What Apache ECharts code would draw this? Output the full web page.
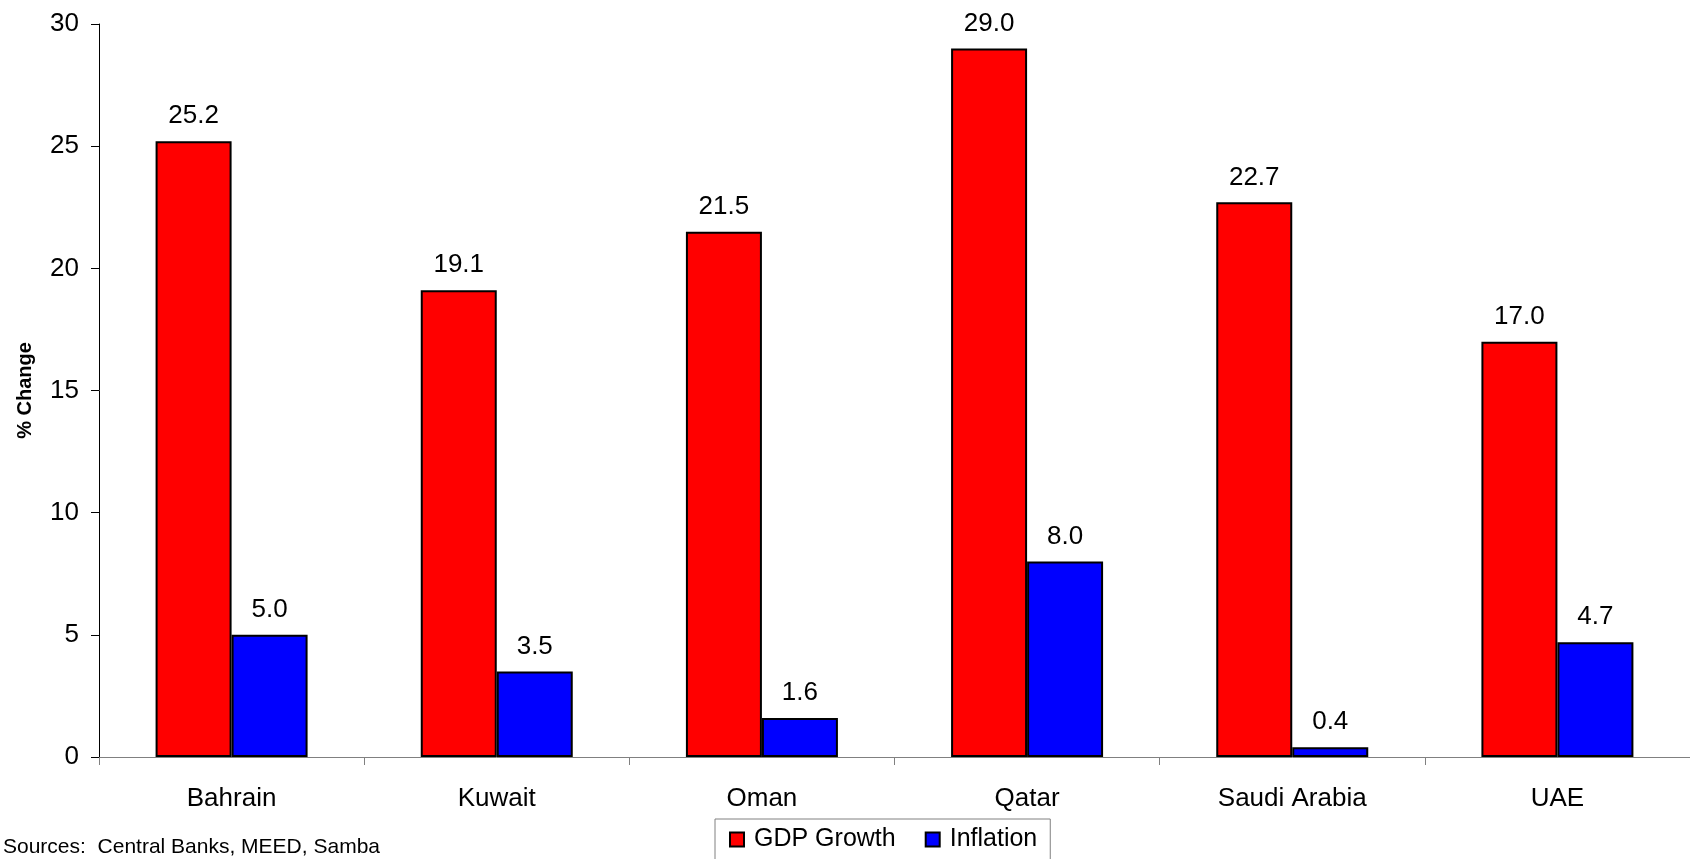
<!DOCTYPE html>
<html>
<head>
<meta charset="utf-8">
<title>GDP Growth and Inflation</title>
<script src="https://cdn.jsdelivr.net/npm/echarts@6/dist/echarts.min.js"></script>
<style>
  html, body { margin: 0; padding: 0; background: #ffffff; }
  #chart { width: 1690px; height: 859px; }
</style>
</head>
<body>
<div id="chart"></div>
<script>
// Countries along the category axis
const countries = ['Bahrain', 'Kuwait', 'Oman', 'Qatar', 'Saudi Arabia', 'UAE'];
// Percentage change per country
const gdpGrowth = [25.2, 19.1, 21.5, 29.0, 22.7, 17.0];
const inflation = [5.0, 3.5, 1.6, 8.0, 0.4, 4.7];
// Value axis
const yMin = 0, yMax = 30, yStep = 5;

const FONT = '"Liberation Sans", Arial, sans-serif';

const chart = echarts.init(document.getElementById('chart'), null, { renderer: 'canvas' });

const valueLabel = {
  show: true,
  position: 'top',
  distance: 12,
  color: '#000000',
  fontFamily: FONT,
  fontSize: 26,
  formatter: p => Number(p.value).toFixed(1)
};

chart.setOption({
  animation: false,
  backgroundColor: '#ffffff',
  textStyle: { fontFamily: FONT, color: '#000000' },
  grid: { left: 99, top: 24, width: 1594, height: 733 },
  xAxis: {
    type: 'category',
    data: countries,
    boundaryGap: true,
    axisLine: { show: true, lineStyle: { color: '#808080', width: 1 } },
    axisTick: { show: true, length: 8, alignWithLabel: false, lineStyle: { color: '#808080' } },
    axisLabel: { color: '#000000', fontFamily: FONT, fontSize: 26, margin: 29 },
    splitLine: { show: false }
  },
  yAxis: {
    type: 'value',
    min: yMin,
    max: yMax,
    interval: yStep,
    name: '% Change',
    nameLocation: 'middle',
    nameRotate: 90,
    nameGap: 64,
    nameTextStyle: { fontFamily: FONT, fontSize: 20, fontWeight: 'bold', color: '#000000' },
    axisLine: { show: true, lineStyle: { color: '#000000', width: 1 } },
    axisTick: { show: true, length: 8, lineStyle: { color: '#000000' } },
    axisLabel: { color: '#000000', fontFamily: FONT, fontSize: 26, margin: 20 },
    splitLine: { show: false }
  },
  legend: {
    data: ['GDP Growth', 'Inflation'],
    left: 715,
    top: 819,
    orient: 'horizontal',
    icon: 'rect',
    itemWidth: 14,
    itemHeight: 14,
    itemGap: 29,
    padding: [8, 13, 20, 14],
    borderColor: '#808080',
    borderWidth: 1,
    backgroundColor: '#ffffff',
    textStyle: { fontFamily: FONT, fontSize: 25, color: '#000000', padding: [0, 0, 0, 5] }
  },
  graphic: [
    {
      type: 'text',
      left: 3,
      top: 837,
      style: { text: 'Sources:  Central Banks, MEED, Samba', font: '21px ' + FONT, fill: '#000000' }
    }
  ],
  series: [
    {
      name: 'GDP Growth',
      type: 'bar',
      data: gdpGrowth,
      barWidth: 76,
      barGap: '0%',
      itemStyle: { color: '#ff0000', borderColor: '#000000', borderWidth: 2 },
      label: valueLabel
    },
    {
      name: 'Inflation',
      type: 'bar',
      data: inflation,
      barWidth: 76,
      barGap: '0%',
      itemStyle: { color: '#0000ff', borderColor: '#000000', borderWidth: 2 },
      label: valueLabel
    }
  ]
});
</script>
</body>
</html>
